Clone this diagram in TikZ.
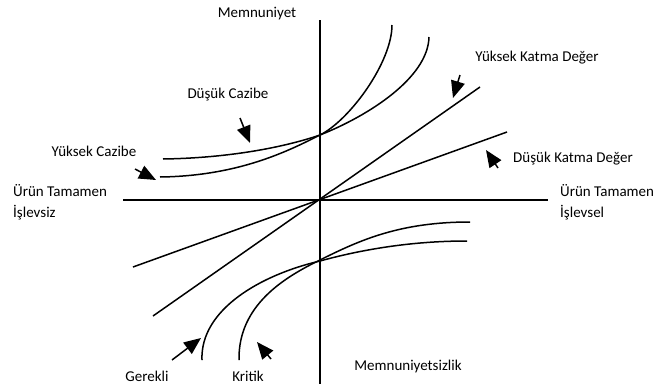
\documentclass[tikz,border=0pt]{standalone}
\usepackage{fontspec}
\setmainfont{Carlito}
\usetikzlibrary{arrows.meta}
\begin{document}
\begin{tikzpicture}[x=1pt, y=-1pt, every node/.style={font=\fontsize{15}{21}\selectfont, inner sep=0pt},
    axis/.style={line width=2.6pt},
    curve/.style={line width=1.5pt},
    pointer/.style={line width=1.5pt, -{Triangle[length=17pt,width=14pt]}}]
    \useasboundingbox (0,0) rectangle (657,389);

    % ==================== AXES ====================
    \draw[axis] (123,200) -- (548,200);
    \draw[axis] (320,20) -- (320,384);
    \node (memnun) at (257,14) {Memnuniyet};
    \node (memnunsuz) at (408,366) {Memnuniyetsizlik};
    \node[anchor=west, align=left] (islevsiz) at (13,202) {Ürün Tamamen\\İşlevsiz};
    \node[anchor=west, align=left] (islevsel) at (560,202) {Ürün Tamamen\\İşlevsel};

    % ==================== CAZIBE CURVES ====================
    \draw[curve] (160,177) .. controls (240,176) and (290,150) .. (320,135)
                 .. controls (350,120) and (392,62) .. (392,25);
    \draw[curve] (163,159) .. controls (230,158) and (285,147) .. (320,135)
                 .. controls (368,116) and (428,78) .. (429,37);

    % ==================== KATMA DEGER LINES ====================
    \draw[curve] (153,316) -- (480,87);
    \draw[curve] (133,267) -- (507,132);

    % ==================== GEREKLI / KRITIK CURVES ====================
    \draw[curve] (202,360) .. controls (200,310) and (260,275) .. (320,261)
                 .. controls (360,250) and (410,241) .. (467,241);
    \draw[curve] (239,360) .. controls (238,305) and (285,277) .. (320,260)
                 .. controls (360,240) and (400,222) .. (470,222);

    % ==================== LABELS + POINTERS ====================
    \node (dcazibe) at (228,95) {Düşük Cazibe};
    \coordinate (dcazibe-tail) at (240,118); \coordinate (dcazibe-tip) at (250,143);
    \draw[pointer] (dcazibe-tail) -- (dcazibe-tip);

    \node (ycazibe) at (94,151) {Yüksek Cazibe};
    \coordinate (ycazibe-tail) at (135,169); \coordinate (ycazibe-tip) at (156,180);
    \draw[pointer] (ycazibe-tail) -- (ycazibe-tip);

    \node (ykatma) at (537,58) {Yüksek Katma Değer};
    \coordinate (ykatma-tail) at (460,75); \coordinate (ykatma-tip) at (453,98);
    \draw[pointer] (ykatma-tail) -- (ykatma-tip);

    \node[anchor=west] (dkatma) at (513,159) {Düşük Katma Değer};
    \coordinate (dkatma-tail) at (498,168); \coordinate (dkatma-tip) at (486,150);
    \draw[pointer] (dkatma-tail) -- (dkatma-tip);

    \node (gerekli) at (147,376) {Gerekli};
    \coordinate (gerekli-tail) at (172,360); \coordinate (gerekli-tip) at (201,338);
    \draw[pointer] (gerekli-tail) -- (gerekli-tip);

    \node (kritik) at (248,376) {Kritik};
    \coordinate (kritik-tail) at (271,359); \coordinate (kritik-tip) at (257,342);
    \draw[pointer] (kritik-tail) -- (kritik-tip);
\end{tikzpicture}
\end{document}
